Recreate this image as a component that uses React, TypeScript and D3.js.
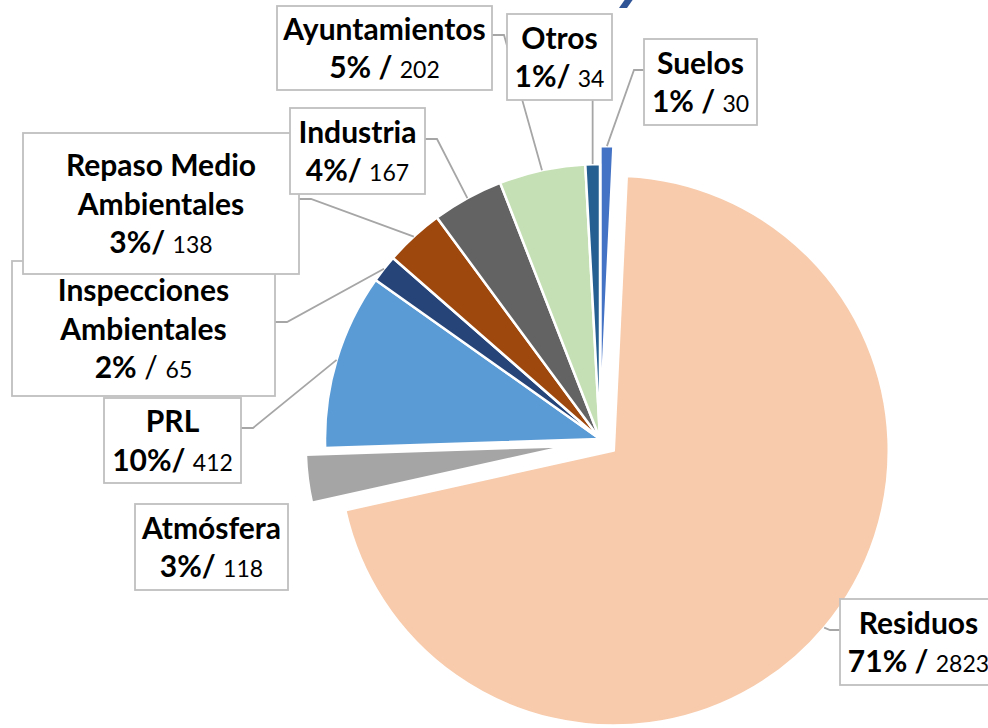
import React, { useEffect, useRef } from "react";
import * as d3 from "d3";

// data, in the drawing order of the pie (clockwise from 12 o'clock)
const categories = ["Suelos", "Residuos", "Atmósfera", "PRL", "Inspecciones Ambientales", "Repaso Medio Ambientales", "Industria", "Ayuntamientos", "Otros"];
const values = [30, 2823, 118, 412, 65, 138, 167, 202, 34];
const labelLines = [["Suelos"], ["Residuos"], ["Atmósfera"], ["PRL"], ["Inspecciones", "Ambientales"], ["Repaso Medio", "Ambientales"], ["Industria"], ["Ayuntamientos"], ["Otros"]];
const separators = [" / ", " / ", "/ ", "/ ", " / ", "/ ", "/ ", " / ", "/ "];
const colors = ["#4472C4", "#F7CBAC", "#A5A5A5", "#5B9BD5", "#264478", "#9E480E", "#636363", "#C5E0B4", "#255E91"];

// label boxes: x, y, w, h, where the leader leaves the box, leader y
const layout = {
  "Suelos": { box: [644, 39, 113, 86], side: "left", ly: 70 },
  "Residuos": { box: [840, 599, 157, 86], side: "left", ly: 630 },
  "Atmósfera": { box: [135, 504, 153, 86], side: "none", ly: 0 },
  "PRL": { box: [104, 398, 137, 85], side: "right", ly: 428 },
  "Inspecciones Ambientales": { box: [12, 261, 263, 135], side: "right", ly: 322 },
  "Repaso Medio Ambientales": { box: [23, 133, 276, 141], side: "right", ly: 199 },
  "Industria": { box: [290, 108, 135, 86], side: "right", ly: 139 },
  "Ayuntamientos": { box: [277, 6, 215, 84], side: "right", ly: 35 },
  "Otros": { box: [507, 14, 105, 86], side: "bottom", ly: 0 },
};

// exploded slices: distance and direction tweak (deg)
const explode = {
  "Suelos": { d: 18, rot: 0, r: 275 },
  "Residuos": { d: 18, rot: 0, r: 275 },
  "Atmósfera": { d: 34, rot: -5, r: 261 },
};

const App = () => {
  const ref = useRef();

  useEffect(() => {
    const svg = d3.select(ref.current);
    svg.selectAll("*").remove();

    const cx = 600, cy = 439, R = 275;
    const total = d3.sum(values);
    const pct = d3.format(".0%");
    const font = "Lato, 'Open Sans', sans-serif";

    const pie = d3.pie().sort(null).value(d => d)(values);

    const slices = pie.map((p, i) => {
      const name = categories[i];
      const ex = explode[name] || { d: 0, rot: 0, r: R };
      const mid = (p.startAngle + p.endAngle) / 2;
      const dir = mid + (ex.rot * Math.PI) / 180;
      const ox = Math.sin(dir) * ex.d;
      const oy = -Math.cos(dir) * ex.d;
      return { p, i, name, ox, oy, r: ex.r, mid };
    });

    const g = svg.append("g").attr("transform", `translate(${cx},${cy})`);

    g.selectAll("path.slice")
      .data(slices)
      .enter()
      .append("path")
      .attr("class", "slice")
      .attr("transform", d => `translate(${d.ox},${d.oy})`)
      .attr("d", d => d3.arc().innerRadius(0).outerRadius(d.r)(d.p))
      .attr("fill", d => colors[d.i])
      .attr("stroke", "#fff")
      .attr("stroke-width", 2.5)
      .attr("stroke-linejoin", "round");

    // leader lines
    const leaders = svg.append("g");
    slices.forEach(s => {
      const L = layout[s.name];
      if (L.side === "none") return;
      const [bx, by, bw, bh] = L.box;
      const ex = cx + s.ox + Math.sin(s.mid) * s.r;
      const ey = cy + s.oy - Math.cos(s.mid) * s.r;
      let pts;
      if (L.side === "right") pts = [[bx + bw, L.ly], [bx + bw + 12, L.ly], [ex, ey]];
      else if (L.side === "left") pts = [[bx, L.ly], [bx - 10, L.ly], [ex, ey]];
      else pts = [[ex, by + bh], [ex, ey]];
      leaders.append("path")
        .attr("d", d3.line()(pts))
        .attr("fill", "none")
        .attr("stroke", "#A6A6A6")
        .attr("stroke-width", 1.8);
    });

    // label boxes, drawn so later ones sit on top
    const order = ["Inspecciones Ambientales", "Repaso Medio Ambientales", "Industria", "PRL", "Atmósfera", "Ayuntamientos", "Otros", "Suelos", "Residuos"];
    order.forEach(name => {
      const i = categories.indexOf(name);
      const L = layout[name];
      const [bx, by, bw, bh] = L.box;
      const lg = svg.append("g");
      lg.append("rect")
        .attr("x", bx).attr("y", by).attr("width", bw).attr("height", bh)
        .attr("fill", "#fff")
        .attr("stroke", "#BFBFBF")
        .attr("stroke-width", 1.8);

      const lines = labelLines[i].length + 1;
      const lh = 38.5;
      const tx = bx + bw / 2;
      const y0 = by + bh / 2 - ((lines - 1) * lh) / 2 + 11;

      labelLines[i].forEach((t, k) => {
        lg.append("text")
          .attr("x", tx).attr("y", y0 + k * lh)
          .attr("text-anchor", "middle")
          .style("font-family", font)
          .style("font-weight", 700)
          .style("font-size", "30px")
          .attr("fill", "#000")
          .text(t);
      });

      const sep = separators[i];
      const slashBold = name !== "Inspecciones Ambientales";
      const last = lg.append("text")
        .attr("x", tx).attr("y", y0 + labelLines[i].length * lh)
        .attr("text-anchor", "middle")
        .style("font-family", font)
        .attr("fill", "#000");
      last.append("tspan")
        .style("font-weight", 700).style("font-size", "30px")
        .text(pct(values[i] / total) + (slashBold ? sep : ""));
      if (!slashBold) {
        last.append("tspan").style("font-size", "30px").style("font-weight", 400).text(sep);
      }
      last.append("tspan")
        .style("font-weight", 400).style("font-size", "23px")
        .text(values[i]);
    });

    // stray blue stroke at top edge
    svg.append("path")
      .attr("d", "M619,8 L626,-2 L634,-2 L627,8 Z")
      .attr("fill", "#2F5597");
  }, []);

  return (
    <svg
      ref={ref}
      width={988}
      height={728}
      style={{ position: "absolute", left: 0, top: 0, background: "#fff" }}
    />
  );
};

export default App;
